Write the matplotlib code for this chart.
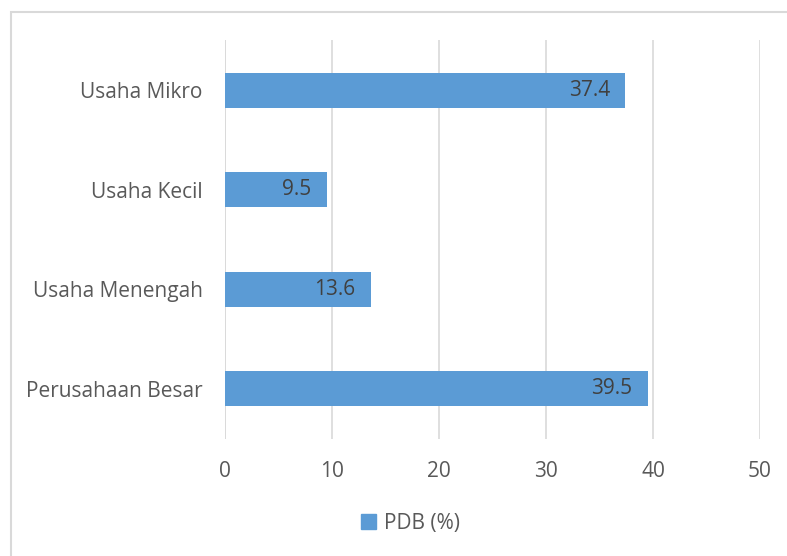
import matplotlib.pyplot as plt
from matplotlib.patches import Rectangle, Patch

categories = ['Perusahaan Besar', 'Usaha Menengah', 'Usaha Kecil', 'Usaha Mikro']
pdb_values = [39.5, 13.6, 9.5, 37.4]
x_ticks = [0, 10, 20, 30, 40, 50]

plt.rcParams['font.family'] = ['Open Sans', 'DejaVu Sans']

bar_color = '#5b9bd5'
text_color = '#595959'
fs = 15

fig = plt.figure(figsize=(7.87, 5.56), dpi=100)
ax = fig.add_axes([0.2859, 0.2113, 0.6798, 0.7159])

# chart-area border (light gray frame)
fig.patches.append(Rectangle((11 / 787, -0.1), 1.2, 1 - 12 / 556 + 0.1,
                             transform=fig.transFigure, fill=False,
                             edgecolor='#d9d9d9', linewidth=1.5))

y_pos = range(len(categories))
bars = ax.barh(y_pos, pdb_values, height=0.35, color=bar_color, zorder=3)

for rect, val in zip(bars, pdb_values):
    ax.text(rect.get_width() - 1.4, rect.get_y() + rect.get_height() / 2,
            f'{val}', ha='right', va='center', fontsize=fs, color='#404040', zorder=4)

ax.set_xlim(0, 50)
ax.set_ylim(-0.5, len(categories) - 0.5)
ax.set_xticks(x_ticks)
ax.set_yticks(list(y_pos))
ax.set_yticklabels(categories)
ax.tick_params(axis='both', length=0, labelsize=fs, colors=text_color)
ax.tick_params(axis='x', pad=16)
ax.tick_params(axis='y', pad=16)
ax.grid(axis='x', color='#d9d9d9', linewidth=1.2, zorder=0)
ax.axvline(0, color='#d9d9d9', linewidth=1.2, zorder=1)
for side in ax.spines.values():
    side.set_visible(False)

fig.legend(handles=[Patch(color=bar_color, label='PDB (%)')],
           loc='center', bbox_to_anchor=(0.522, 0.0585), frameon=False,
           fontsize=fs, labelcolor=text_color, handlelength=0.7, handleheight=0.7,
           handletextpad=0.4)

fig.savefig('out.png', dpi=100)
